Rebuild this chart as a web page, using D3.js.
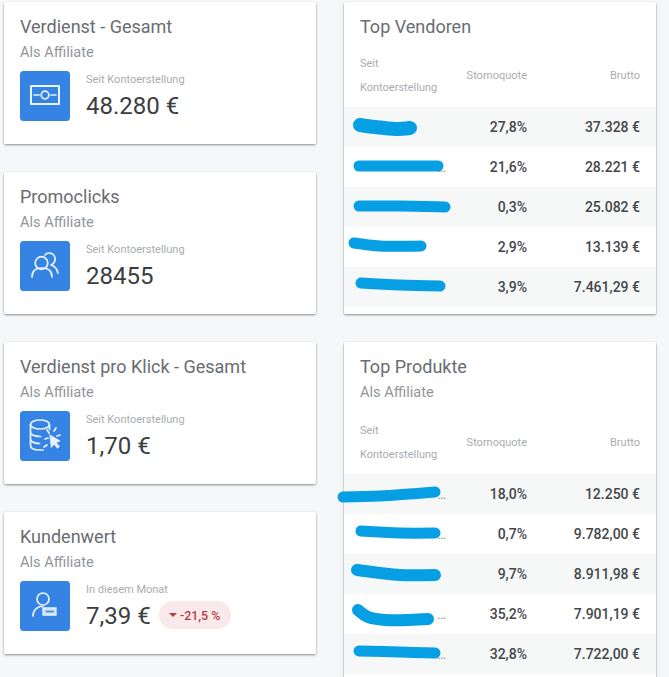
<!DOCTYPE html>
<html>
<head>
<meta charset="utf-8">
<script src="https://cdnjs.cloudflare.com/ajax/libs/d3/7.8.5/d3.min.js"></script>
<style>
	html, body { margin: 0; padding: 0; background: #f6f7f9; overflow: hidden; }
	svg { display: block; font-family: Roboto, sans-serif; }
</style>
</head>
<body>
<script>
var kpiTitles = ['Verdienst - Gesamt', 'Promoclicks', 'Verdienst pro Klick - Gesamt', 'Kundenwert'];
var kpiSubtitle = 'Als Affiliate';
var kpiCaptions = ['Seit Kontoerstellung', 'Seit Kontoerstellung', 'Seit Kontoerstellung', 'In diesem Monat'];
var kpiValues = ['48.280 €', '28455', '1,70 €', '7,39 €'];
var kpiChange = '-21,5 %';

var tableHeaders = ['Seit', 'Kontoerstellung', 'Stornoquote', 'Brutto'];
var vendorStorno = ['27,8%', '21,6%', '0,3%', '2,9%', '3,9%'];
var vendorBrutto = ['37.328 €', '28.221 €', '25.082 €', '13.139 €', '7.461,29 €'];
var vendorClipped = [false, true, false, false, false];
var productStorno = ['18,0%', '0,7%', '9,7%', '35,2%', '32,8%'];
var productBrutto = ['12.250 €', '9.782,00 €', '8.911,98 €', '7.901,19 €', '7.722,00 €'];
var productClipped = [true, true, false, true, true];

/* The hand-drawn strokes that hide the names, [x, y] on the page. */
var vendorScribbles = [
	[[360,125],[375,127],[395,129],[410,128]],
	[[359,166],[438,166]],
	[[359,206],[400,206],[445,207]],
	[[354,243],[380,246],[421,246]],
	[[361,283],[400,285],[440,286]]
];
var productScribbles = [
	[[343,497],[380,496],[435,492]],
	[[361,531],[400,533],[435,533]],
	[[357,570],[380,573],[400,575],[435,575]],
	[[358,610],[368,617],[385,620],[428,619]],
	[[359,651],[400,652],[435,653]]
];

var width = 669, height = 677;
var blue = '#3584e4';
var iconInk = '#eaf3fd';

var svg = d3.select('body').append('svg')
	.attr('width', width)
	.attr('height', height);

var shadow = svg.append('defs').append('filter')
	.attr('id', 'cardShadow')
	.attr('x', '-5%').attr('y', '-5%')
	.attr('width', '110%').attr('height', '110%');
shadow.append('feDropShadow')
	.attr('dx', 0).attr('dy', 1)
	.attr('stdDeviation', 0.8)
	.attr('flood-color', '#000')
	.attr('flood-opacity', 0.45);

svg.append('rect')
	.attr('width', width)
	.attr('height', height)
	.attr('fill', '#f6f7f9');

function appendCard(x, y, w, h)
{
	var g = svg.append('g').attr('transform', 'translate(' + x + ',' + y + ')');
	g.append('rect')
		.attr('width', w)
		.attr('height', h)
		.attr('rx', 2)
		.attr('fill', '#fff')
		.attr('filter', 'url(#cardShadow)');
	return g;
}

function appendText(g, x, y, text, size, color, anchor, weight)
{
	return g.append('text')
		.attr('x', x)
		.attr('y', y)
		.attr('font-size', size)
		.attr('fill', color)
		.attr('text-anchor', anchor || 'start')
		.attr('font-weight', weight || 400)
		.text(text);
}

/* Icons are drawn in the 50x50 box of the blue square. */
function strokeIcon(g)
{
	return g.append('g')
		.attr('fill', 'none')
		.attr('stroke', iconInk)
		.attr('stroke-width', 1.7)
		.attr('stroke-linecap', 'round')
		.attr('stroke-linejoin', 'round');
}

var iconDrawers = [
	function(g) {
		var i = strokeIcon(g);
		i.append('rect').attr('x', 11).attr('y', 15).attr('width', 28).attr('height', 18).attr('stroke-width', 2);
		i.append('circle').attr('cx', 25).attr('cy', 24).attr('r', 3.8);
		i.append('path').attr('d', 'M14 24h5M31 24h5');
	},
	function(g) {
		var i = strokeIcon(g);
		i.append('circle').attr('cx', 21.5).attr('cy', 22).attr('r', 6.3);
		i.append('path').attr('d', 'M12 36c0-6 4-9 10-9s10 3 10 9');
		i.append('path').attr('d', 'M25 14c2-3 9-3 10 3c.7 4-2 6-4 7c4 1 6 4 7 8');
	},
	function(g) {
		var i = strokeIcon(g);
		i.append('ellipse').attr('cx', 20).attr('cy', 13.5).attr('rx', 9.5).attr('ry', 4.5);
		i.append('path').attr('d', 'M10.5 13.5v21c0 3 4 4.5 9.5 4.5h3M29.5 13.5v5M10.5 21c0 3 5 4.5 10 4.5M10.5 28c0 3 5 4.5 9 4.5');
		i.append('path').attr('d', 'M27 19l2 3M36 17l-2 3M40 24l-3 1M25 28l3-1M24 36l3-2');
		i.append('path').attr('d', 'M30 24l10 6-4 1.5 3.5 4-2 1.7-3.5-4-2.5 3z')
			.attr('fill', iconInk).attr('stroke-width', 0.8);
	},
	function(g) {
		var i = strokeIcon(g);
		i.append('circle').attr('cx', 23).attr('cy', 18).attr('r', 6);
		i.append('path').attr('d', 'M13 35c0-5 3-8 7-9.500h3');
		i.append('rect').attr('x', 23).attr('y', 27).attr('width', 13).attr('height', 7)
			.attr('fill', '#c7def8').attr('stroke-width', 1.3);
		i.append('path').attr('d', 'M26.500 30.500h1.500M29 30.500h1M31.500 30.500h1.500').attr('stroke', blue);
	}
];

var kpiTop = d3.scalePoint()
	.domain(d3.range(kpiTitles.length))
	.range([2, 512]);

kpiTitles.forEach(function(title, i)
{
	var card = appendCard(4, kpiTop(i), 312, 142);
	appendText(card, 16, 31, title, 18, '#696d71');
	appendText(card, 16, 55, kpiSubtitle, 14.6, '#92969a');
	var icon = card.append('g').attr('transform', 'translate(16,69)');
	icon.append('rect').attr('width', 50).attr('height', 50).attr('rx', 3.5).attr('fill', blue);
	iconDrawers[i](icon);
	appendText(card, 82, 81, kpiCaptions[i], 11, '#a9acaf');
	appendText(card, 82, 112, kpiValues[i], 24, '#3b3e41');
});

/* The change pill sits next to the value of the last card. */
var pill = svg.append('g').attr('transform', 'translate(159,601)');
pill.append('rect').attr('width', 72).attr('height', 28).attr('rx', 14).attr('fill', '#f9e9ea');
pill.append('path').attr('d', 'M10 12h8l-4 4z').attr('fill', '#b23b4a');
appendText(pill, 21, 18.5, kpiChange, 12.4, '#b23b4a', 'start', 500);

function appendTable(card, headerTop, storno, brutto, clipped, firstBand)
{
	appendText(card, 16, headerTop, tableHeaders[0], 11, '#a9acaf');
	appendText(card, 16, headerTop + 24, tableHeaders[1], 11, '#a9acaf');
	appendText(card, 183, headerTop + 12, tableHeaders[2], 11, '#a9acaf', 'end');
	appendText(card, 296, headerTop + 12, tableHeaders[3], 11, '#a9acaf', 'end');

	var rowY = d3.scaleBand()
		.domain(d3.range(storno.length))
		.range([firstBand, firstBand + 40 * storno.length]);

	var rows = card.selectAll('g.row')
		.data(storno)
		.enter()
		.append('g')
		.classed('row', true)
		.attr('transform', function(d, i) { return 'translate(0,' + rowY(i) + ')'; });

	rows.append('rect')
		.attr('width', 312)
		.attr('height', rowY.bandwidth())
		.attr('fill', function(d, i) { return i % 2 == 0 ? '#f6f8f8' : '#fff'; });

	rows.append('text')
		.attr('x', 183)
		.attr('y', 24.5)
		.attr('text-anchor', 'end')
		.attr('font-size', 14)
		.attr('font-weight', 500)
		.attr('fill', '#43474a')
		.text(function(d) { return d; });

	rows.append('text')
		.attr('x', 296)
		.attr('y', 24.5)
		.attr('text-anchor', 'end')
		.attr('font-size', 14)
		.attr('font-weight', 500)
		.attr('fill', '#43474a')
		.text(function(d, i) { return brutto[i]; });

	/* Only the ends of the long names stay visible past the strokes. */
	rows.filter(function(d, i) { return clipped[i]; })
		.append('text')
		.attr('x', 102)
		.attr('y', 24.5)
		.attr('text-anchor', 'end')
		.attr('font-size', 13)
		.attr('fill', '#8d9195')
		.text('…');
}

function appendScribbles(strokes, widths)
{
	var line = d3.line().curve(d3.curveCatmullRom);
	svg.append('g')
		.attr('fill', 'none')
		.attr('stroke', '#069fe3')
		.attr('stroke-linecap', 'round')
		.attr('stroke-linejoin', 'round')
		.selectAll('path')
		.data(strokes)
		.enter()
		.append('path')
		.attr('stroke-width', function(d, i) { return widths[i]; })
		.attr('d', line);
}

var vendorCard = appendCard(344, 2, 312, 312);
appendText(vendorCard, 16, 31, 'Top Vendoren', 18, '#696d71');
appendTable(vendorCard, 65, vendorStorno, vendorBrutto, vendorClipped, 105);

var productCard = appendCard(344, 342, 312, 345);
appendText(productCard, 16, 31, 'Top Produkte', 18, '#696d71');
appendText(productCard, 16, 55, kpiSubtitle, 14.6, '#92969a');
appendTable(productCard, 92, productStorno, productBrutto, productClipped, 132);

appendScribbles(vendorScribbles, [14, 11, 11, 11, 11]);
appendScribbles(productScribbles, [11, 11, 12, 12, 11]);
</script>
</body>
</html>
